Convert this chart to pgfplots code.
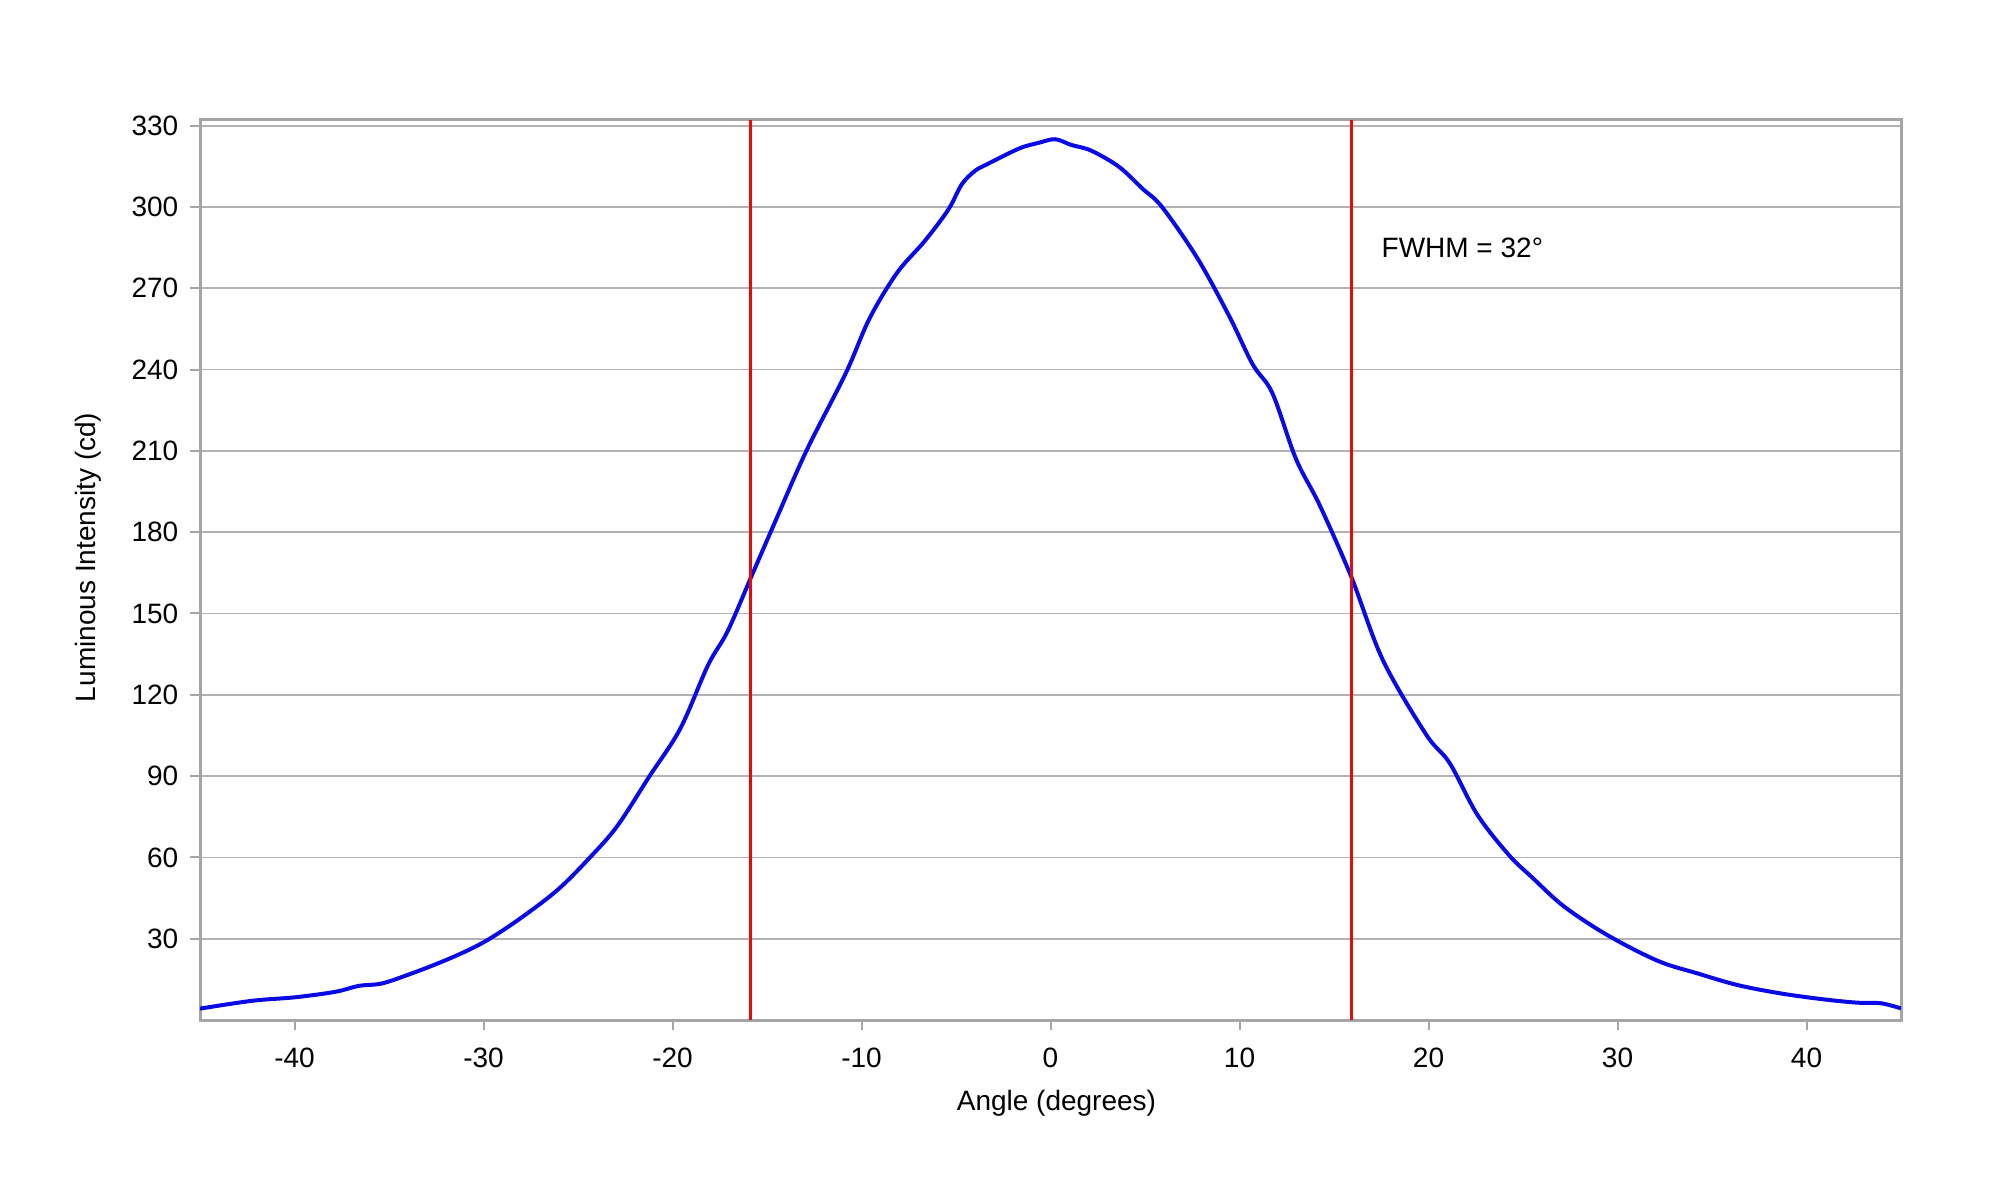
\documentclass[border=0pt]{standalone}
\usepackage{fontspec}
\setmainfont{Liberation Sans}
\usepackage{pgfplots}
\pgfplotsset{compat=1.18}
\definecolor{gridgray}{RGB}{178,178,178}
\definecolor{framegray}{RGB}{165,165,165}
\definecolor{curveblue}{RGB}{10,10,230}
\definecolor{linered}{RGB}{230,10,10}
\begin{document}
\fontsize{14}{16}\selectfont
\begin{tikzpicture}
\path[use as bounding box] (0,0) rectangle (1000pt,600pt);
\begin{axis}[
  at={(100pt,90pt)}, anchor=south west,
  scale only axis,
  width=850.5pt, height=450pt,
  xmin=-45, xmax=45,
  ymin=0, ymax=332.1,
  xtick={-40,-30,...,40},
  ytick={30,60,...,330},
  ymajorgrids=true,
  grid style={gridgray, line width=0.9pt},
  axis line style={framegray, line width=1.5pt},
  tick style={framegray, line width=1pt},
  tick align=outside,
  major tick length=5pt,
  xtick pos=bottom, ytick pos=left,
  /pgf/number format/assume math mode=true,
  ticklabel style={font=\fontsize{14}{16}\selectfont},
  xticklabel style={yshift=-4pt},
  yticklabel style={xshift=-1pt},
  label style={font=\fontsize{14}{16}\selectfont},
  xlabel={Angle (degrees)},
  ylabel={Luminous Intensity (cd)},
  xlabel style={at={(axis description cs:0.5035,-0.092)}, anchor=center},
  ylabel style={at={(axis description cs:-0.0658,0.514)}, anchor=center},
  clip=true,
]
\addplot[curveblue, line width=2pt, smooth, tension=0.55] coordinates {
(-45,4.2) (-42.23,7.1) (-39.95,8.4) (-37.84,10.4) (-36.6,12.6) (-35.37,13.5)
(-33.79,17.2) (-32.2,21.5) (-30.8,25.8) (-29.6,30.3) (-27.93,38.1) (-26.05,48.2)
(-24.38,59.9) (-22.93,71.5) (-21.26,89.5) (-19.59,107.5) (-18.13,130.8) (-17.08,143.5)
(-15.83,163.6) (-14.58,183.7) (-12.91,210.1) (-10.83,238.7) (-9.58,258.8) (-8.12,275.7)
(-6.66,287.4) (-5.41,299) (-4.7,308.3) (-4.0,313.3) (-3.32,315.9) (-1.65,321.6) (-0.61,323.7)
(0.25,325) (1.1,322.9) (2.15,320.8) (3.61,314.9) (4.86,306.8) (5.9,300)
(7.78,281) (9.45,259.8) (10.7,241.9) (11.74,231.3) (12.99,207) (14.24,190)
(15.91,163.6) (17.58,132.9) (19.87,105.4) (21.12,94.8) (22.58,75.8) (24.25,60.9)
(25.5,52.5) (27.17,41.9) (29.47,31.3) (32.14,21.8) (34.23,17.2) (36.35,12.9)
(38.64,9.8) (40.93,7.6) (42.69,6.4) (43.92,6.2) (45,4.3)
};
\addplot[linered, line width=1.5pt] coordinates {(-15.88,0) (-15.88,332.1)};
\addplot[linered, line width=1.5pt] coordinates {(15.94,0) (15.94,332.1)};
\node[anchor=west, inner sep=0pt, font=\fontsize{14}{16}\selectfont] at (axis cs:17.5,285) {FWHM = 32°};
\end{axis}
\end{tikzpicture}
\end{document}
